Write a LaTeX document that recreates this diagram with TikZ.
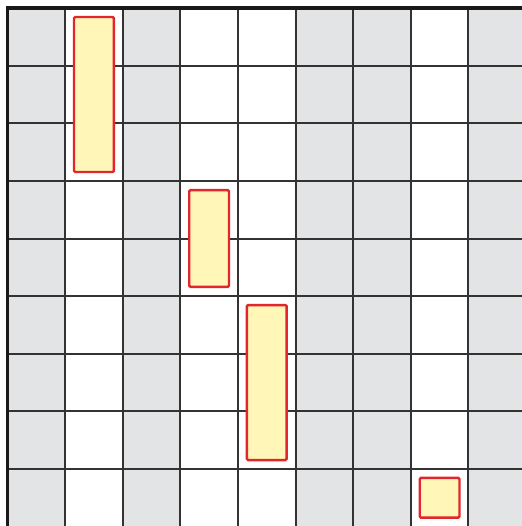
\documentclass[tikz,border=0pt]{standalone}
\usetikzlibrary{positioning}
\definecolor{cellgray}{HTML}{E3E4E6}
\definecolor{barfill}{HTML}{FFF6B8}
\definecolor{barred}{HTML}{E3262B}
\begin{document}
\begin{tikzpicture}[
          gridline/.style={draw=black!80, line width=1pt},
          frame/.style={draw=black!90, line width=1.8pt},
          bar/.style={draw=barred, line width=1.2pt, fill=barfill, rounded corners=0.6pt, minimum width=0.69cm, inner sep=0pt}
      ]
          \useasboundingbox (-0.13,0.14) rectangle (8.93,-8.99);
          \clip (-0.13,0.14) rectangle (8.93,-8.99);
          % graue Spalten
          \foreach \c in {0,2,5,6,8}
            \fill[cellgray] (\c,0) rectangle ++(1,-9);
          \draw[gridline] (0,-9) grid (9,0);
          \draw[frame] (9,0) -- (0,0) -- (0,-9);
          
          % gelbe Balken
          \node[bar, minimum height=2.69cm] (barA) at (1.5,-1.5) {};
          \node[bar, minimum height=1.68cm] (barB) at (3.5,-4) {};
          \node[bar, minimum height=2.69cm] (barC) at (4.5,-6.5) {};
          \node[bar, minimum height=0.69cm] (barD) at (7.5,-8.5) {};
      \end{tikzpicture}
\end{document}
